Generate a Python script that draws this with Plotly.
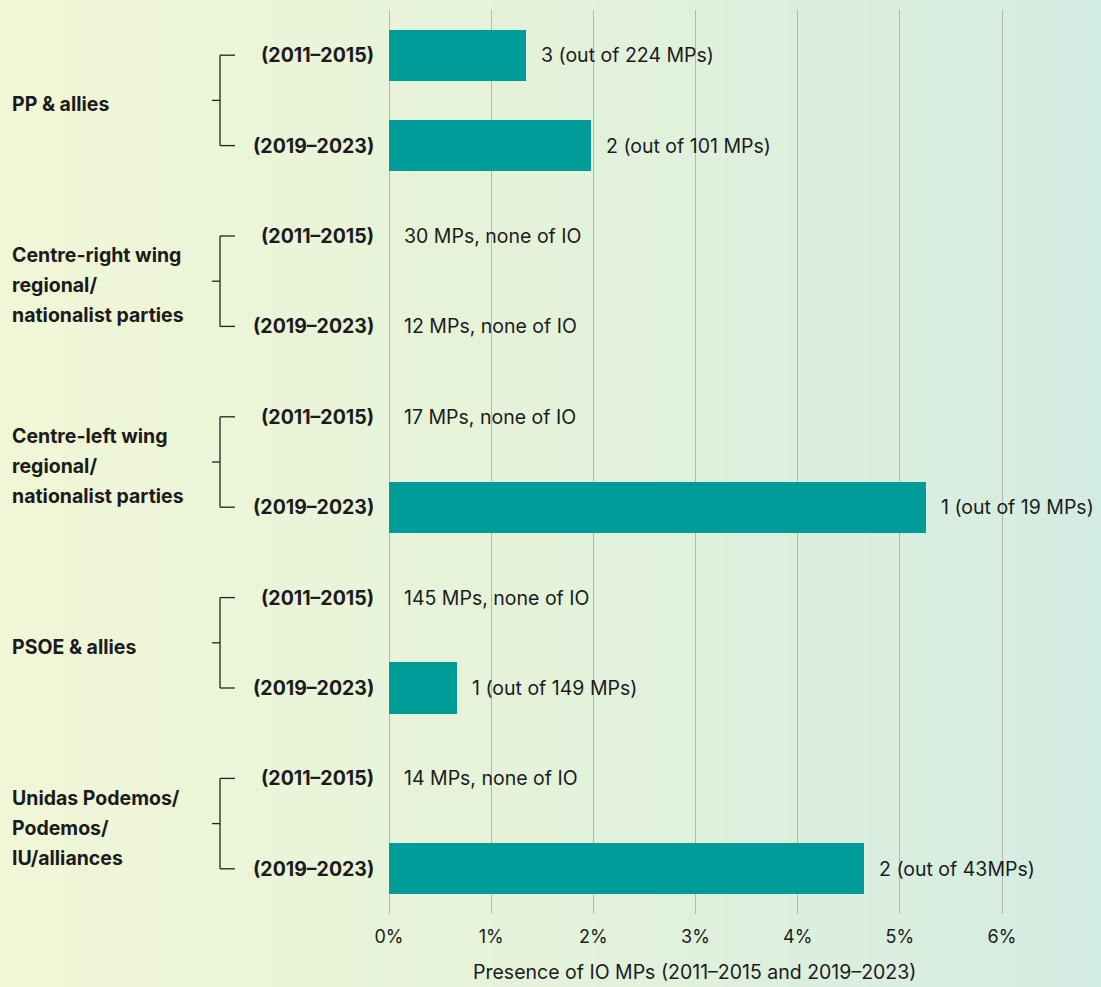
import base64
import struct
import zlib

import plotly.graph_objects as go

# ---------------- data ----------------
groups = [
    ["PP & allies"],
    ["Centre-right wing", "regional/", "nationalist parties"],
    ["Centre-left wing", "regional/", "nationalist parties"],
    ["PSOE & allies"],
    ["Unidas Podemos/", "Podemos/", "IU/alliances"],
]
periods = ["(2011–2015)", "(2019–2023)"]
row_labels = [p for g in groups for p in periods]
io_share_pct = [1.34, 1.98, 0, 0, 0, 5.26, 0, 0.67, 0, 4.65]
bar_notes = [
    "3 (out of 224 MPs)", "2 (out of 101 MPs)",
    "30 MPs, none of IO", "12 MPs, none of IO",
    "17 MPs, none of IO", "1 (out of 19 MPs)",
    "145 MPs, none of IO", "1 (out of 149 MPs)",
    "14 MPs, none of IO", "2 (out of 43MPs)",
]
tick_values = [0, 1, 2, 3, 4, 5, 6]
axis_title = "Presence of IO MPs (2011–2015 and 2019–2023)"

# ---------------- layout constants ----------------
W, H = 1101, 987
ML, MR, MT, MB = 389, 0, 10, 73
PW, PH = W - ML - MR, H - MT - MB
FONT = "Inter, Noto Sans, sans-serif"
FS = 19.5
TXT = "#1b1b1b"
BAR = "#009c9a"


def px_to_paper_x(px):
    return (px - ML) / PW


def px_to_paper_y(py):
    return 1 - (py - MT) / PH


# ---------------- gradient background png ----------------
def gradient_png(stops, width=256):
    def lerp(c1, c2, t):
        return tuple(round(a + (b - a) * t) for a, b in zip(c1, c2))

    row = bytearray()
    for i in range(width):
        t = i / (width - 1)
        for j in range(len(stops) - 1):
            p0, c0 = stops[j]
            p1, c1 = stops[j + 1]
            if p0 <= t <= p1:
                row.extend(lerp(c0, c1, (t - p0) / (p1 - p0) if p1 > p0 else 0))
                break
    raw = b"\x00" + bytes(row)

    def chunk(tag, data):
        c = tag + data
        return struct.pack(">I", len(data)) + c + struct.pack(">I", zlib.crc32(c) & 0xFFFFFFFF)

    png = b"\x89PNG\r\n\x1a\n"
    png += chunk(b"IHDR", struct.pack(">IIBBBBB", width, 1, 8, 2, 0, 0, 0))
    png += chunk(b"IDAT", zlib.compress(raw))
    png += chunk(b"IEND", b"")
    return "data:image/png;base64," + base64.b64encode(png).decode()


bg_src = gradient_png([(0.0, (241, 247, 214)), (0.5, (228, 242, 218)), (1.0, (211, 236, 226))])

# ---------------- figure ----------------
ypos = list(range(len(row_labels)))

fig = go.Figure()
fig.add_trace(go.Bar(
    x=io_share_pct, y=ypos, orientation="h",
    marker=dict(color=BAR, line=dict(width=0)),
    width=0.565, hoverinfo="skip", showlegend=False,
))

annotations = []
# bar value notes
for y, v, note in zip(ypos, io_share_pct, bar_notes):
    annotations.append(dict(
        x=v, y=y, xref="x", yref="y", text=note, showarrow=False,
        xanchor="left", yanchor="middle", xshift=13,
        font=dict(family=FONT, size=FS, color=TXT),
    ))
# period labels
for y, lab in zip(ypos, row_labels):
    annotations.append(dict(
        x=px_to_paper_x(376), y=y, xref="paper", yref="y", text="<b>" + lab + "</b>",
        showarrow=False, xanchor="right", yanchor="middle",
        font=dict(family=FONT, size=FS, color=TXT),
    ))
# group labels (one annotation per line, 30px line spacing) and brackets
shapes = []
LINE_GAP = 30
for gi, lines in enumerate(groups):
    y0, y1 = 2 * gi, 2 * gi + 1
    ym = (y0 + y1) / 2
    n = len(lines)
    for li, line in enumerate(lines):
        offset = (li - (n - 1) / 2) * LINE_GAP + 4
        annotations.append(dict(
            x=px_to_paper_x(10), y=ym, xref="paper", yref="y", text="<b>" + line + "</b>",
            showarrow=False, xanchor="left", yanchor="middle", align="left", yshift=-offset,
            font=dict(family=FONT, size=FS, color=TXT),
        ))
    ln = dict(color="#222222", width=1.3)
    xv = px_to_paper_x(220)
    xh = px_to_paper_x(235)
    xm = px_to_paper_x(212)
    shapes += [
        dict(type="line", xref="paper", yref="y", x0=xv, x1=xv, y0=y0, y1=y1, line=ln),
        dict(type="line", xref="paper", yref="y", x0=xv, x1=xh, y0=y0, y1=y0, line=ln),
        dict(type="line", xref="paper", yref="y", x0=xv, x1=xh, y0=y1, y1=y1, line=ln),
        dict(type="line", xref="paper", yref="y", x0=xm, x1=xv, y0=ym, y1=ym, line=ln),
    ]

# axis title (centred under the 0–6 % span, as in the original)
annotations.append(dict(
    x=px_to_paper_x(694), y=px_to_paper_y(972), xref="paper", yref="paper",
    text=axis_title, showarrow=False, xanchor="center", yanchor="middle",
    font=dict(family=FONT, size=FS, color=TXT),
))

fig.update_layout(
    width=W, height=H,
    margin=dict(l=ML, r=MR, t=MT, b=MB, pad=0),
    paper_bgcolor="white",
    plot_bgcolor="rgba(0,0,0,0)",
    font=dict(family=FONT, size=FS, color=TXT),
    bargap=0,
    xaxis=dict(
        range=[0, PW / 102.17], tickvals=tick_values, ticktext=[f"{t}%" for t in tick_values],
        showgrid=True, gridcolor="#b5b8b2", gridwidth=1.3,
        zeroline=True, zerolinecolor="#b5b8b2", zerolinewidth=1.3,
        showline=False, ticks="", ticklabelstandoff=10,
        tickfont=dict(family=FONT, size=18, color=TXT),
        fixedrange=True,
    ),
    yaxis=dict(
        range=[len(row_labels) - 0.5, -0.5], showticklabels=False, showgrid=False,
        zeroline=False, showline=False, ticks="", fixedrange=True,
    ),
    annotations=annotations,
    shapes=shapes,
    images=[dict(
        source=bg_src, xref="paper", yref="paper",
        x=-ML / PW, y=1 + MT / PH, sizex=W / PW, sizey=H / PH,
        xanchor="left", yanchor="top", sizing="stretch", layer="below",
    )],
)

fig.write_html(
    "out.html",
    config={"displayModeBar": False},
    post_script="document.body.style.margin='0';document.body.style.padding='0';",
)
